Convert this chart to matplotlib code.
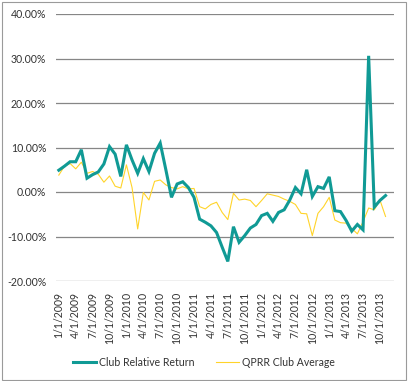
import matplotlib
matplotlib.use("Agg")
import matplotlib.pyplot as plt
from matplotlib.patches import Rectangle
from matplotlib.ticker import FuncFormatter

plt.rcParams['font.family'] = ['Lato', 'DejaVu Sans']

months = [f"{m}/1/{y}" for y in range(2009, 2014) for m in range(1, 13)][:59]

club_relative = [4.9, 5.8, 6.8, 6.8, 9.5, 3.1, 3.9, 4.5, 6.3, 10.2,
                 8.5, 3.5, 10.6, 7.2, 4.2, 7.5, 4.6, 8.7, 11.0, 5.0,
                 -1.2, 1.8, 2.3, 1.0, -1.2, -6.1, -6.8, -7.6, -9.1, -12.4,
                 -15.6, -7.8, -11.3, -9.8, -8.1, -7.3, -5.3, -4.8, -6.6, -4.6,
                 -4.0, -1.8, 1.0, -0.4, 5.0, -1.0, 1.2, 0.8, 3.4, -4.2,
                 -4.4, -6.4, -8.8, -7.3, -8.5, 30.6, -3.4, -1.9, -0.8]

qprr_average = [3.8, 5.8, 6.4, 5.2, 6.7, 4.2, 4.6, 4.0, 2.2, 3.6,
                1.3, 0.9, 6.1, 1.0, -8.3, -0.1, -1.8, 2.4, 2.7, 1.6,
                1.0, 0.7, 1.2, 0.7, 0.8, -3.3, -3.8, -2.8, -2.3, -4.6,
                -6.2, -0.3, -1.8, -1.6, -1.9, -3.3, -1.9, -0.4, -0.7, -1.0,
                -1.6, -2.1, -2.8, -4.8, -4.9, -9.8, -4.8, -3.3, -1.2, -6.3,
                -6.9, -7.0, -8.2, -9.4, -6.7, -3.6, -4.0, -1.8, -5.5]

tick_labels = months[::3]

W, H = 408, 381
fig = plt.figure(figsize=(W / 100, H / 100), dpi=100)
fig.patches.append(Rectangle((1.5 / W, 1.5 / H), 1 - 3.5 / W, 1 - 3.5 / H,
                             transform=fig.transFigure, fill=False,
                             edgecolor='#9a9a9a', linewidth=0.8))

ax = fig.add_axes([56 / W, 1 - 281 / H, (394 - 56) / W, (281 - 14) / H])
x = list(range(len(months)))
ax.plot(x, club_relative, color='#109A95', linewidth=2.2, label='Club Relative Return',
        solid_joinstyle='miter', zorder=3)
ax.plot(x, qprr_average, color='#FFD42A', linewidth=0.8, label='QPRR Club Average', zorder=2)

ax.set_xlim(-0.5, 59.5)
ax.set_ylim(-20, 40)
ax.set_yticks([-20, -10, 0, 10, 20, 30, 40])
ax.yaxis.set_major_formatter(FuncFormatter(lambda v, p: f"{v:.2f}%"))
ax.grid(axis='y', color='#868686', linewidth=0.9)
ax.set_axisbelow(True)
for s in ax.spines.values():
    s.set_visible(False)
ax.set_xticks(x[::3])
ax.set_xticklabels(tick_labels, rotation=90, fontsize=7.6, color='#333333')
ax.tick_params(axis='x', length=0, pad=8)
ax.tick_params(axis='y', length=0, pad=7, labelsize=7.6, labelcolor='#333333')

fig.legend(loc='center', bbox_to_anchor=(0.5, 1 - 362 / H), ncol=2, frameon=False,
           fontsize=7.6, handlelength=2.2, columnspacing=2.0, handletextpad=0.3,
           labelcolor='#333333')

fig.savefig('out.png', dpi=100)
